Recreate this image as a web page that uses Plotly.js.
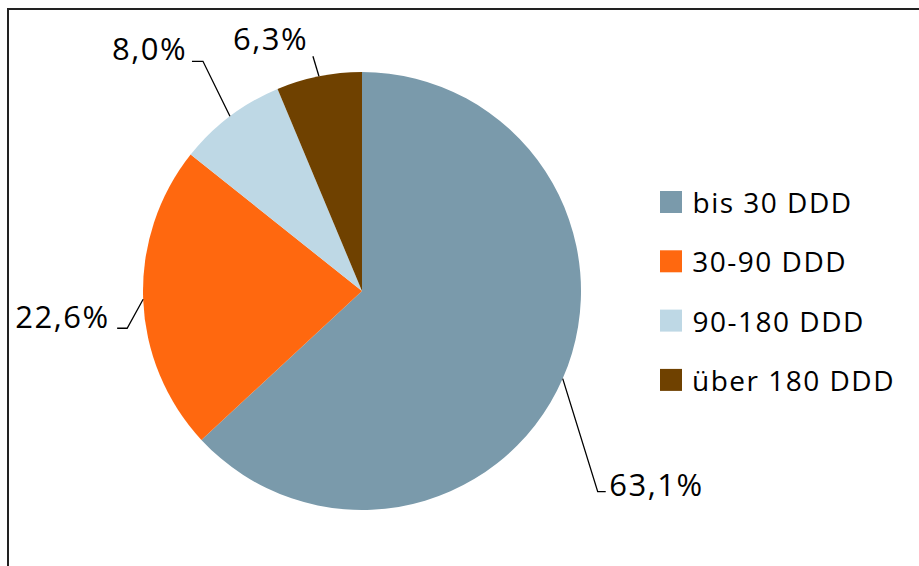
<!DOCTYPE html>
<html>
<head>
<meta charset="utf-8">
<script src="https://cdn.plot.ly/plotly-3.0.1.min.js"></script>
<style>
  html, body { margin: 0; padding: 0; background: #fff; }
  #chart { width: 919px; height: 566px; }
  #chart .annotation-text { letter-spacing: 1.5px; }
</style>
</head>
<body>
<div id="chart"></div>
<script>
// data
var labels = ['bis 30 DDD', '30-90 DDD', '90-180 DDD', 'über 180 DDD'];
var values = [63.1, 22.6, 8.0, 6.3];
var colors = ['#7a9aab', '#ff680f', '#bed8e5', '#6f4100'];

// label placement (pixels relative to the slice edge point)
var leaders = [
    { ex: 35, ey: 113, tx: 43, anchor: 'left', ox: 2, oy: -8 },
    { ex: -16, ey: 29, tx: -26, anchor: 'right', ox: -5, oy: -12 },
    { ex: -27, ey: -55, tx: -38, anchor: 'right', ox: -3, oy: -13 },
    { ex: -6, ey: -20, tx: -6, anchor: 'center', ox: -42, oy: -18 }
];

var W = 919, H = 566;
var cx = 362, cy = 291, r = 219;
var ls = 1.5; // letter-spacing from the css above
var fontFam = '"Open Sans", "Noto Sans", sans-serif';

function px(x) { return x / W; }
function py(y) { return 1 - y / H; }

function fmt(v) {
    return v.toFixed(1).replace('.', ',') + '%';
}

// plotly centres annotation text, so letter-spacing grows it both ways
function fix(txt, anchor) {
    var d = txt.length * ls / 2;
    return anchor === 'left' ? d : anchor === 'right' ? -d : 0;
}

var total = values.reduce((a, b) => a + b, 0);
var shapes = [];
var annotations = [];

// frame
shapes.push({
    type: 'rect', xref: 'paper', yref: 'paper',
    x0: px(8), x1: px(W + 10), y0: py(H + 10), y1: py(9),
    line: { color: '#222', width: 2 }
});

var cum = 0;
values.forEach((v, i) => {
    var mid = (cum + v / 2) / total * 2 * Math.PI;
    cum += v;
    var x0 = cx + r * Math.sin(mid),
        y0 = cy - r * Math.cos(mid),
        L = leaders[i],
        x1 = x0 + L.ex, y1 = y0 + L.ey,
        x2 = x0 + L.tx,
        txt = fmt(v);
    shapes.push({
        type: 'path', xref: 'paper', yref: 'paper',
        path: 'M' + px(x0) + ',' + py(y0) + ' L' + px(x1) + ',' + py(y1) + ' L' + px(x2) + ',' + py(y1),
        line: { color: '#000', width: 1.3 }
    });
    annotations.push({
        xref: 'paper', yref: 'paper',
        x: px(x2 + L.ox + fix(txt, L.anchor)), y: py(y1 + L.oy),
        xanchor: L.anchor, yanchor: 'middle',
        text: txt, showarrow: false,
        font: { family: fontFam, size: 31, color: '#000' }
    });
});

// legend
labels.forEach((lab, i) => {
    var yc = 202 + i * 59.3;
    shapes.push({
        type: 'rect', xref: 'paper', yref: 'paper',
        x0: px(660), x1: px(682), y0: py(yc + 11), y1: py(yc - 11),
        fillcolor: colors[i], line: { width: 0 }
    });
    annotations.push({
        xref: 'paper', yref: 'paper',
        x: px(690 + fix(lab, 'left')), y: py(yc),
        xanchor: 'left', yanchor: 'middle',
        text: lab, showarrow: false,
        font: { family: fontFam, size: 28, color: '#000' }
    });
});

var trace = {
    type: 'pie',
    labels: labels,
    values: values,
    sort: false,
    direction: 'clockwise',
    rotation: 0,
    textinfo: 'none',
    hoverinfo: 'skip',
    marker: { colors: colors, line: { width: 0 } },
    domain: {
        x: [px(cx - r), px(cx + r)],
        y: [py(cy + r), py(cy - r)]
    },
    showlegend: false
};

var layout = {
    width: W,
    height: H,
    margin: { l: 0, r: 0, t: 0, b: 0 },
    paper_bgcolor: '#fff',
    showlegend: false,
    shapes: shapes,
    annotations: annotations,
    font: { family: fontFam }
};

Plotly.newPlot('chart', [trace], layout, { staticPlot: true });
</script>
</body>
</html>
